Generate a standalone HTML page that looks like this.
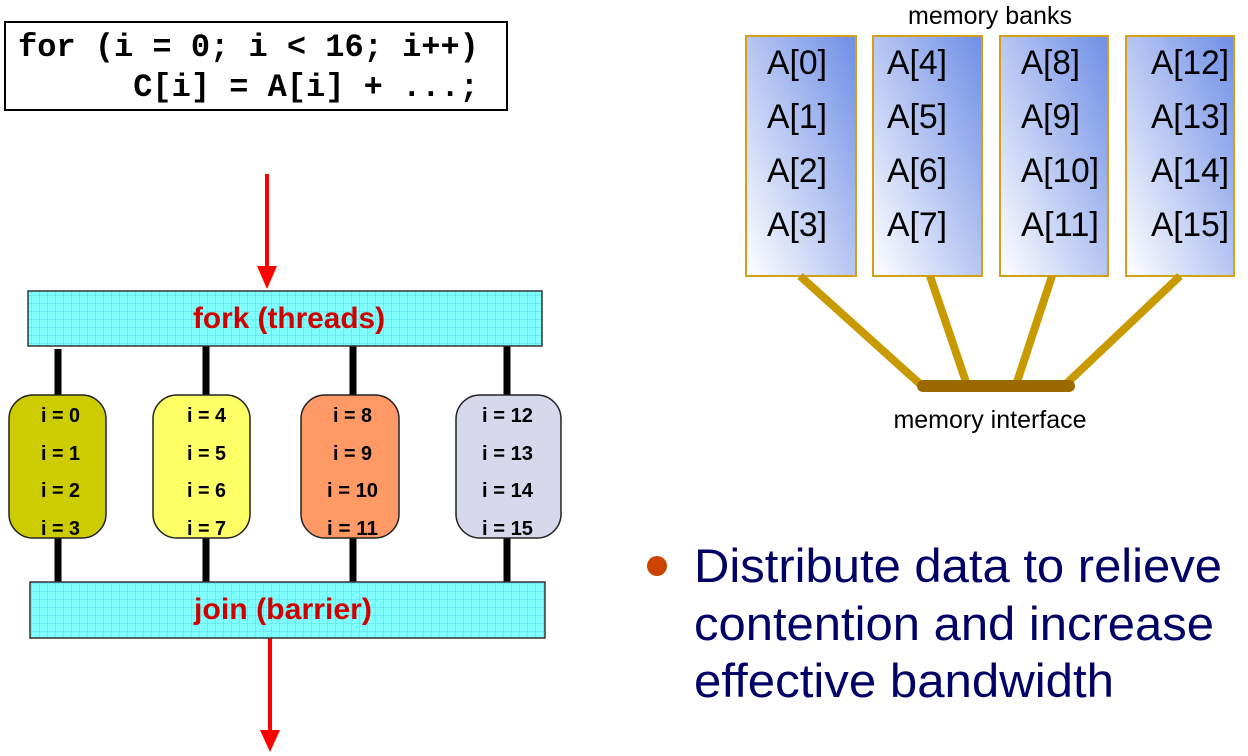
<!DOCTYPE html>
<html><head><meta charset="utf-8"><style>
html,body{margin:0;padding:0;background:#fff}
svg{display:block}
</style></head><body>
<svg width="1248" height="756" viewBox="0 0 1248 756" xmlns="http://www.w3.org/2000/svg">
<defs>
<pattern id="grid" width="8" height="8" patternUnits="userSpaceOnUse">
<rect width="8" height="8" fill="#80ffff"/>
<path d="M8 0V8M0 8H8" stroke="#5cc8e8" stroke-width="0.8" fill="none"/>
</pattern>
<linearGradient id="bank" x1="0" y1="1" x2="1" y2="0">
<stop offset="0" stop-color="#ffffff"/>
<stop offset="1" stop-color="#6f8ee6"/>
</linearGradient>
</defs>

<rect x="5" y="22" width="502" height="88" fill="#fff" stroke="#000" stroke-width="2"/>
<g font-family="Liberation Mono, monospace" font-weight="bold" font-size="32" fill="#000">
<text x="18" y="56" xml:space="preserve">for (i = 0; i &lt; 16; i++)</text>
<text x="18" y="96" xml:space="preserve">      C[i] = A[i] + ...;</text>
</g>

<line x1="267" y1="174" x2="267" y2="270" stroke="#f00" stroke-width="4"/>
<polygon points="257,266 277,266 267,289" fill="#f00"/>
<line x1="270" y1="638" x2="270" y2="734" stroke="#f00" stroke-width="4"/>
<polygon points="260,730 280,730 270,752" fill="#f00"/>

<g stroke="#000" stroke-width="7">
<line x1="58" y1="349" x2="58" y2="583"/>
<line x1="206" y1="346" x2="206" y2="583"/>
<line x1="353" y1="346" x2="353" y2="583"/>
<line x1="507" y1="346" x2="507" y2="583"/>
</g>

<rect x="28" y="291" width="514" height="55" fill="url(#grid)" stroke="#333" stroke-width="1.5"/>
<rect x="30" y="582" width="515" height="56" fill="url(#grid)" stroke="#333" stroke-width="1.5"/>
<g font-family="Liberation Sans, sans-serif" font-weight="bold" font-size="30" fill="#d00000">
<text x="193" y="328" textLength="192" lengthAdjust="spacingAndGlyphs">fork (threads)</text>
<text x="194" y="619" textLength="178" lengthAdjust="spacingAndGlyphs">join (barrier)</text>
</g>

<g stroke="#222" stroke-width="1.5">
<rect x="9" y="395" width="97" height="143" rx="24" fill="#cccc00"/>
<rect x="153" y="395" width="97" height="143" rx="24" fill="#ffff66"/>
<rect x="301" y="395" width="98" height="143" rx="24" fill="#ff9966"/>
<rect x="456" y="395" width="105" height="143" rx="24" fill="#d8d8ec"/>
</g>
<g font-family="Liberation Sans, sans-serif" font-weight="bold" font-size="20" fill="#000">
<text x="41" y="422" textLength="39" lengthAdjust="spacingAndGlyphs">i = 0</text>
<text x="41" y="460" textLength="39" lengthAdjust="spacingAndGlyphs">i = 1</text>
<text x="41" y="497" textLength="39" lengthAdjust="spacingAndGlyphs">i = 2</text>
<text x="41" y="535" textLength="39" lengthAdjust="spacingAndGlyphs">i = 3</text>
<text x="187" y="422" textLength="39" lengthAdjust="spacingAndGlyphs">i = 4</text>
<text x="187" y="460" textLength="39" lengthAdjust="spacingAndGlyphs">i = 5</text>
<text x="187" y="497" textLength="39" lengthAdjust="spacingAndGlyphs">i = 6</text>
<text x="187" y="535" textLength="39" lengthAdjust="spacingAndGlyphs">i = 7</text>
<text x="333" y="422" textLength="39" lengthAdjust="spacingAndGlyphs">i = 8</text>
<text x="333" y="460" textLength="39" lengthAdjust="spacingAndGlyphs">i = 9</text>
<text x="327" y="497" textLength="51" lengthAdjust="spacingAndGlyphs">i = 10</text>
<text x="327" y="535" textLength="51" lengthAdjust="spacingAndGlyphs">i = 11</text>
<text x="482" y="422" textLength="51" lengthAdjust="spacingAndGlyphs">i = 12</text>
<text x="482" y="460" textLength="51" lengthAdjust="spacingAndGlyphs">i = 13</text>
<text x="482" y="497" textLength="51" lengthAdjust="spacingAndGlyphs">i = 14</text>
<text x="482" y="535" textLength="51" lengthAdjust="spacingAndGlyphs">i = 15</text>
</g>

<g font-family="Liberation Sans, sans-serif" font-size="25" fill="#000" text-anchor="middle">
<text x="990" y="24">memory banks</text>
<text x="990" y="428">memory interface</text>
</g>
<g stroke="#d4a017" stroke-width="2">
<rect x="746" y="36" width="110" height="240" fill="url(#bank)"/>
<rect x="873" y="36" width="109" height="240" fill="url(#bank)"/>
<rect x="1000" y="36" width="108" height="240" fill="url(#bank)"/>
<rect x="1126" y="36" width="108" height="240" fill="url(#bank)"/>
</g>
<g font-family="Liberation Sans, sans-serif" font-size="34" fill="#000" lengthAdjust="spacingAndGlyphs">
<text x="767" y="74" textLength="60" lengthAdjust="spacingAndGlyphs">A[0]</text>
<text x="767" y="128" textLength="60" lengthAdjust="spacingAndGlyphs">A[1]</text>
<text x="767" y="182" textLength="60" lengthAdjust="spacingAndGlyphs">A[2]</text>
<text x="767" y="236" textLength="60" lengthAdjust="spacingAndGlyphs">A[3]</text>
<text x="887" y="74" textLength="60" lengthAdjust="spacingAndGlyphs">A[4]</text>
<text x="887" y="128" textLength="60" lengthAdjust="spacingAndGlyphs">A[5]</text>
<text x="887" y="182" textLength="60" lengthAdjust="spacingAndGlyphs">A[6]</text>
<text x="887" y="236" textLength="60" lengthAdjust="spacingAndGlyphs">A[7]</text>
<text x="1021" y="74" textLength="59" lengthAdjust="spacingAndGlyphs">A[8]</text>
<text x="1021" y="128" textLength="59" lengthAdjust="spacingAndGlyphs">A[9]</text>
<text x="1021" y="182" textLength="78" lengthAdjust="spacingAndGlyphs">A[10]</text>
<text x="1021" y="236" textLength="78" lengthAdjust="spacingAndGlyphs">A[11]</text>
<text x="1151" y="74" textLength="78" lengthAdjust="spacingAndGlyphs">A[12]</text>
<text x="1151" y="128" textLength="78" lengthAdjust="spacingAndGlyphs">A[13]</text>
<text x="1151" y="182" textLength="78" lengthAdjust="spacingAndGlyphs">A[14]</text>
<text x="1151" y="236" textLength="78" lengthAdjust="spacingAndGlyphs">A[15]</text>
</g>
<g stroke="#c99a00" stroke-width="8">
<line x1="800" y1="276" x2="920" y2="384"/>
<line x1="930" y1="276" x2="966" y2="382"/>
<line x1="1052" y1="276" x2="1017" y2="382"/>
<line x1="1180" y1="276" x2="1066" y2="384"/>
</g>
<line x1="923" y1="386" x2="1069" y2="386" stroke="#9a6a00" stroke-width="12" stroke-linecap="round"/>

<circle cx="657" cy="566" r="10" fill="#cc4400"/>
<g font-family="Liberation Sans, sans-serif" font-size="47" fill="#000066">
<text x="694" y="582" textLength="528" lengthAdjust="spacingAndGlyphs">Distribute data to relieve</text>
<text x="694" y="640" textLength="520" lengthAdjust="spacingAndGlyphs">contention and increase</text>
<text x="694" y="697" textLength="420" lengthAdjust="spacingAndGlyphs">effective bandwidth</text>
</g>
</svg>
</body></html>
